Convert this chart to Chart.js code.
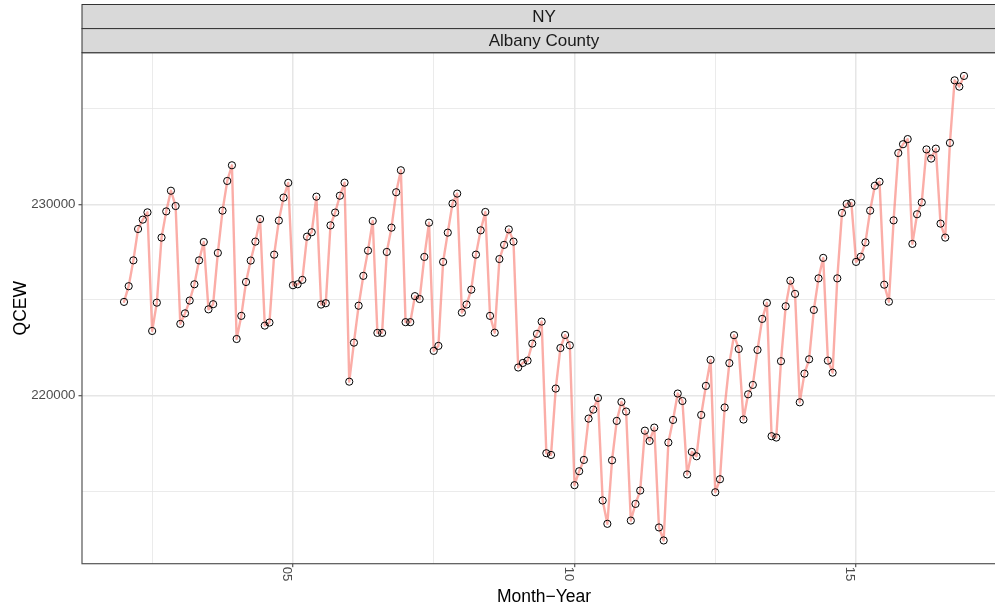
<!DOCTYPE html>
<html>
<head>
<meta charset="utf-8">
<script src="https://cdn.jsdelivr.net/npm/chart.js@4.4.0/dist/chart.umd.min.js"></script>
<style>
  html, body { margin: 0; padding: 0; overflow: hidden; background: #ffffff; }
  canvas { display: block; }
</style>
</head>
<body>
<canvas id="chart" width="1011" height="608" style="width:1011px;height:608px"></canvas>
<script>
// Facet labels
const stripLabels = ['NY', 'Albany County'];

// Observation years (monthly values, Jan..Dec for each year)
const years = [2002, 2003, 2004, 2005, 2006, 2007, 2008, 2009, 2010, 2011, 2012, 2013, 2014, 2015, 2016];

// QCEW employment, Albany County NY, monthly
const qcew = [
  224900, 225720, 227070, 228710, 229200, 229580, 223380, 224860, 228260, 229630, 230710, 229910, // 2002
  223750, 224300, 224970, 225820, 227070, 228030, 224510, 224780, 227460, 229670, 231220, 232040, // 2003
  222960, 224170, 225940, 227060, 228050, 229230, 223660, 223820, 227370, 229150, 230350, 231120, // 2004
  225770, 225820, 226050, 228310, 228540, 230400, 224760, 224830, 228900, 229570, 230450, 231130, // 2005
  220730, 222770, 224700, 226260, 227580, 229130, 223280, 223280, 227510, 228780, 230630, 231780, // 2006
  223840, 223840, 225200, 225050, 227250, 229040, 222340, 222600, 226990, 228520, 230040, 230560, // 2007
  224340, 224760, 225540, 227370, 228640, 229600, 224170, 223290, 227140, 227880, 228690, 228050, // 2008
  221470, 221710, 221830, 222720, 223230, 223870, 216990, 216900, 220370, 222490, 223170, 222630, // 2009
  215320, 216050, 216640, 218800, 219270, 219880, 214520, 213300, 216620, 218680, 219670, 219170, // 2010
  213470, 214340, 215040, 218170, 217630, 218330, 213110, 212430, 217550, 218730, 220110, 219720, // 2011
  215880, 217060, 216830, 218990, 220510, 221870, 214950, 215630, 219380, 221700, 223160, 222440, // 2012
  218750, 220070, 220560, 222390, 224010, 224850, 217880, 217810, 221800, 224670, 226010, 225320, // 2013
  219650, 221150, 221900, 224480, 226130, 227200, 221830, 221200, 226130, 229550, 230020, 230070, // 2014
  226990, 227260, 228010, 229670, 230970, 231180, 225800, 224910, 229160, 232680, 233140, 233410, // 2015
  227930, 229480, 230100, 232870, 232390, 232910, 228990, 228260, 233210, 236480, 236150, 236710  // 2016
];

// Axis breaks and labels
const xMajorBreaks = [2005, 2010, 2015];
const xMajorLabels = ['05', '10', '15'];
const xMinorBreaks = [2002.5, 2007.5, 2012.5, 2017.5];
const yMajorBreaks = [220000, 230000];
const yMajorLabels = ['220000', '230000'];
const yMinorBreaks = [215000, 225000, 235000];

const xTitle = 'Month\u2212Year';
const yTitle = 'QCEW';

// ---- build points (decimal year, value) ----
const points = [];
years.forEach((yr, yi) => {
  for (let m = 0; m < 12; m++) {
    const v = qcew[yi * 12 + m];
    if (v !== undefined) points.push({ x: yr + m / 12, y: v });
  }
});

// ggplot-style 5% expansion of the data range
function expand(vals) {
  const lo = Math.min(...vals), hi = Math.max(...vals);
  const pad = (hi - lo) * 0.05;
  return [lo - pad, hi + pad];
}
const [xMin, xMax] = expand(points.map(p => p.x));
const [yMin, yMax] = expand(points.map(p => p.y));

const FONT = '"Liberation Sans", Arial, Helvetica, sans-serif';
const GRID = '#E6E6E6';
const DARK = '#333333';

const isXMajor = v => xMajorBreaks.some(b => Math.abs(b - v) < 1e-6);
const isYMajor = v => yMajorBreaks.some(b => Math.abs(b - v) < 1e-6);

// Strips, panel border, rotated x labels, axis titles
const decorations = {
  id: 'decorations',
  afterDraw(chart) {
    const { ctx, chartArea: a, scales } = chart;
    ctx.save();

    // panel border
    ctx.strokeStyle = '#555555';
    ctx.lineWidth = 1.2;
    ctx.strokeRect(a.left, a.top, a.right - a.left, a.bottom - a.top);

    // facet strips
    const stripTop = 4.5;
    const stripH = (a.top - stripTop) / stripLabels.length;
    stripLabels.forEach((lab, i) => {
      const y0 = stripTop + i * stripH;
      ctx.fillStyle = '#D9D9D9';
      ctx.fillRect(a.left, y0, a.right - a.left, stripH);
      ctx.strokeStyle = DARK;
      ctx.lineWidth = 1;
      ctx.strokeRect(a.left, y0, a.right - a.left, stripH);
      ctx.fillStyle = '#1A1A1A';
      ctx.font = '17px ' + FONT;
      ctx.textAlign = 'center';
      ctx.textBaseline = 'middle';
      ctx.fillText(lab, (a.left + a.right) / 2, y0 + stripH / 2 + 0.5);
    });

    // x tick labels, rotated clockwise
    ctx.fillStyle = '#4D4D4D';
    ctx.font = '13.3px ' + FONT;
    xMajorBreaks.forEach((b, i) => {
      const px = scales.x.getPixelForValue(b);
      ctx.save();
      ctx.translate(px + 0.5, a.bottom + 3);
      ctx.rotate(Math.PI / 2);
      ctx.textAlign = 'left';
      ctx.textBaseline = 'top';
      ctx.fillText(xMajorLabels[i], 0, 0);
      ctx.restore();
    });

    // axis titles
    ctx.fillStyle = '#000000';
    ctx.font = '17.5px ' + FONT;
    ctx.textAlign = 'center';
    ctx.textBaseline = 'alphabetic';
    ctx.fillText(xTitle, (a.left + a.right) / 2, 601.7);

    ctx.save();
    ctx.translate(26, (a.top + a.bottom) / 2);
    ctx.rotate(-Math.PI / 2);
    ctx.fillText(yTitle, 0, 0);
    ctx.restore();

    ctx.restore();
  }
};

new Chart(document.getElementById('chart'), {
  type: 'line',
  data: {
    datasets: [{
      data: points,
      borderColor: 'rgba(248,118,109,0.6)',
      borderWidth: 2.4,
      borderJoinStyle: 'round',
      borderCapStyle: 'round',
      tension: 0,
      fill: false,
      pointRadius: 3.6,
      pointHoverRadius: 3.6,
      pointBorderWidth: 1,
      pointBorderColor: '#000000',
      pointBackgroundColor: 'rgba(0,0,0,0)'
    }]
  },
  options: {
    responsive: false,
    animation: false,
    devicePixelRatio: 1,
    layout: { padding: { top: 52.7, right: 5, left: 0, bottom: 0 } },
    plugins: { legend: { display: false }, tooltip: { enabled: false } },
    events: [],
    scales: {
      x: {
        type: 'linear',
        min: xMin,
        max: xMax,
        afterBuildTicks: s => {
          s.ticks = [...xMinorBreaks, ...xMajorBreaks].sort((p, q) => p - q).map(v => ({ value: v }));
        },
        afterFit: s => { s.height = 44.3; },
        border: { display: false },
        grid: {
          color: GRID,
          lineWidth: c => isXMajor(c.tick.value) ? 1.5 : 0.8,
          drawTicks: true,
          tickLength: 3.5,
          tickColor: c => isXMajor(c.tick.value) ? DARK : 'rgba(0,0,0,0)',
          tickWidth: 1
        },
        ticks: { display: false }
      },
      y: {
        type: 'linear',
        min: yMin,
        max: yMax,
        afterBuildTicks: s => {
          s.ticks = [...yMinorBreaks, ...yMajorBreaks].sort((p, q) => p - q).map(v => ({ value: v }));
        },
        afterFit: s => { s.width = 82; },
        border: { display: false },
        grid: {
          color: GRID,
          lineWidth: c => isYMajor(c.tick.value) ? 1.5 : 0.8,
          drawTicks: true,
          tickLength: 3.5,
          tickColor: c => isYMajor(c.tick.value) ? DARK : 'rgba(0,0,0,0)',
          tickWidth: 1
        },
        ticks: {
          autoSkip: false,
          padding: 3,
          color: '#4D4D4D',
          font: { family: FONT, size: 13.3 },
          callback: v => {
            const i = yMajorBreaks.findIndex(b => Math.abs(b - v) < 1e-6);
            return i >= 0 ? yMajorLabels[i] : '';
          }
        }
      }
    }
  },
  plugins: [decorations]
});
</script>
</body>
</html>
